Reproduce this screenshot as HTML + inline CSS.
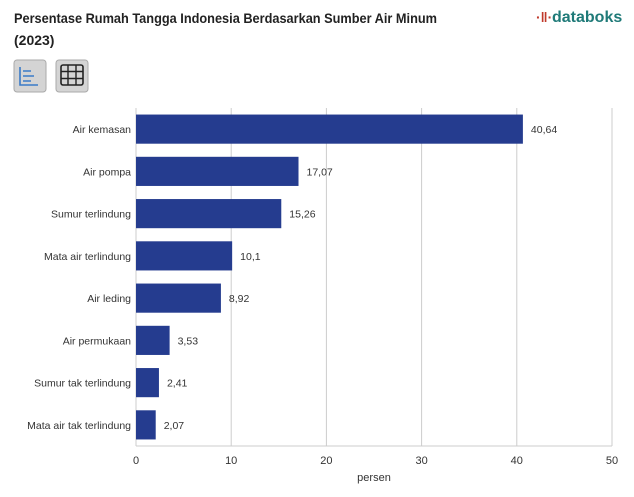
<!DOCTYPE html>
<html><head><meta charset="utf-8"><style>
body{margin:0;background:#fff;width:634px;height:492px;overflow:hidden;font-family:"Liberation Sans",sans-serif}
</style></head><body>
<svg width="634" height="492" xmlns="http://www.w3.org/2000/svg">
<text x="14" y="23" font-size="14" font-weight="bold" fill="#222" textLength="423" lengthAdjust="spacingAndGlyphs">Persentase Rumah Tangga Indonesia Berdasarkan Sumber Air Minum</text>
<text x="14" y="45" font-size="14" font-weight="bold" fill="#222">(2023)</text>
<g>
<text x="536" y="22" font-size="14" font-weight="bold" fill="#c0392b">·ǁ·</text>
<text x="552" y="22" font-size="16" font-weight="bold" fill="#1f7a78">databoks</text>
</g>
<g>
<rect x="14" y="60" width="32" height="32" rx="3" fill="#d4d4d4" stroke="#aaa"/>
<path d="M20 67v18h18M23 71h8M23 76h11M23 81h8" stroke="#3a7bc8" stroke-width="1.6" fill="none"/>
</g>
<g>
<rect x="56" y="60" width="32" height="32" rx="3" fill="#d4d4d4" stroke="#aaa"/>
<rect x="61" y="65" width="22" height="20" rx="2" fill="none" stroke="#222" stroke-width="1.6"/>
<path d="M68 65v20M76 65v20M61 71.5h22M61 78.5h22" stroke="#222" stroke-width="1.4"/>
</g>
<g id="plot"></g>
</svg>
<script>
const categories=["Air kemasan","Air pompa","Sumur terlindung","Mata air terlindung","Air leding","Air permukaan","Sumur tak terlindung","Mata air tak terlindung"];
const values=[40.64,17.07,15.26,10.1,8.92,3.53,2.41,2.07];
const valueLabels=["40,64","17,07","15,26","10,1","8,92","3,53","2,41","2,07"];
const ticks=[0,10,20,30,40,50];
const NS="http://www.w3.org/2000/svg";
const g=document.getElementById('plot');
const x0=136,x1=612,plotTop=108,plotBottom=446,xmax=50;
const xs=v=>x0+v/xmax*(x1-x0);
const band=(plotBottom-plotTop)/categories.length;
const yc=i=>plotTop+band*(i+0.5);
function mk(t,a,txt){const e=document.createElementNS(NS,t);for(const k in a)e.setAttribute(k,a[k]);if(txt!=null)e.textContent=txt;g.appendChild(e);return e;}
ticks.forEach(t=>{
 const l=mk('line',{x1:xs(t),x2:xs(t),y1:plotTop,y2:plotBottom,stroke:'#ccc','stroke-width':1});
 
 
 const tx=mk('text',{x:xs(t),y:plotBottom+18,'font-size':11,'text-anchor':'middle',fill:'#333'},String(t));
 
 
});
const ax=mk('line',{x1:x0,x2:x1,y1:plotBottom,y2:plotBottom,stroke:'#ccc'});


categories.forEach((c,i)=>{
 const h=band*0.69;
 const r=mk('rect',{x:x0,y:yc(i)-h/2,width:xs(values[i])-x0,height:h,fill:'#253c8f'});
 
 
 const cl=mk('text',{x:x0-5,y:yc(i)+4,'font-size':10.5,'text-anchor':'end',fill:'#333'},c);
 
 
 const vl=mk('text',{x:xs(values[i])+8,y:yc(i)+4,'font-size':10.5,fill:'#333'},valueLabels[i]);
 
 
});
const at=mk('text',{x:(x0+x1)/2,y:plotBottom+35,'font-size':11,'text-anchor':'middle',fill:'#333'},'persen');


</script>
</body></html>
